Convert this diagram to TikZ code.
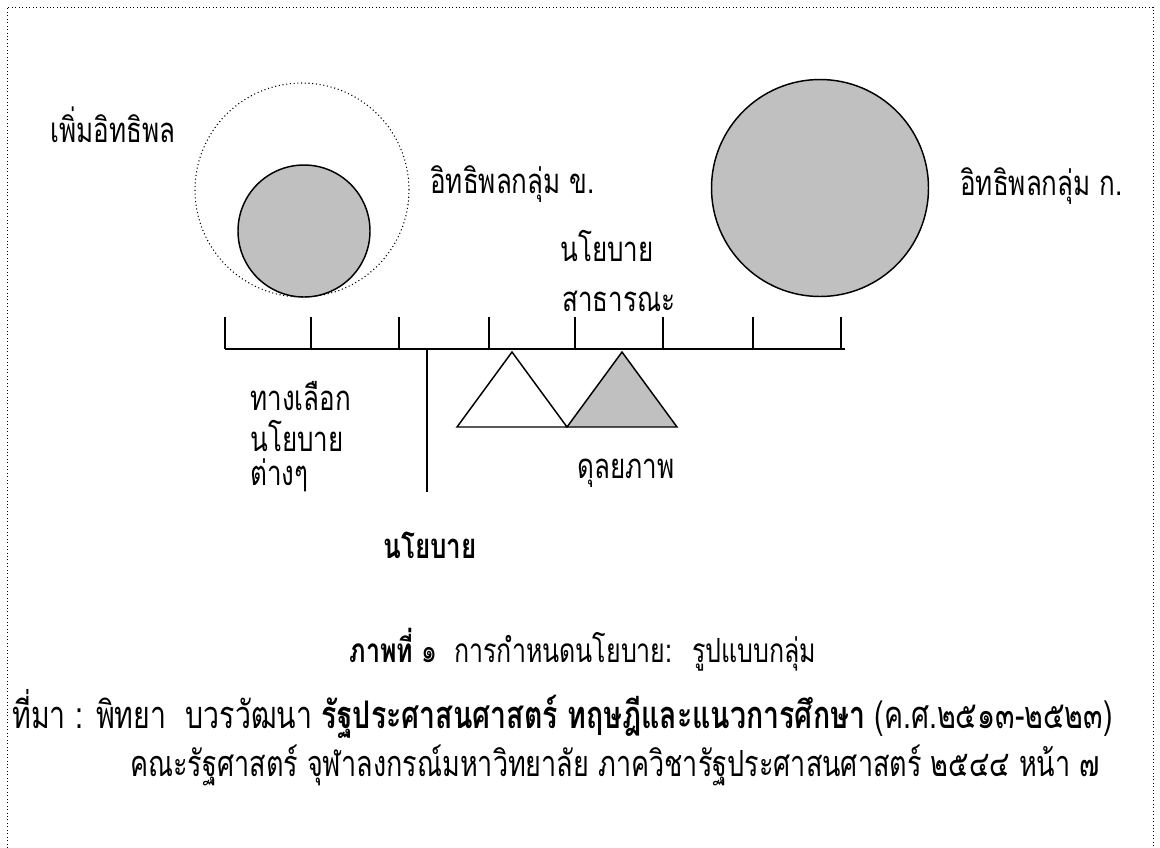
\documentclass[tikz,border=0pt]{standalone}
\usepackage{fontspec}
\setmainfont[Script=Thai,FakeStretch=0.75]{Loma}
\newfontfamily\thai[Script=Thai,FakeStretch=0.75]{Loma}
\definecolor{gfill}{HTML}{C0C0C0}
\tikzset{
  lbl/.style={anchor=west,inner sep=0pt,font=\thai\fontsize{26}{30}\selectfont},
  captxt/.style={anchor=west,inner sep=0pt,font=\thai\fontsize{27}{31}\selectfont},
  solidc/.style={draw=black,line width=1.1pt,fill=gfill},
  dotc/.style={draw=black,line width=0.8pt,dotted},
  rul/.style={draw=black,line width=1.1pt},
}
\begin{document}
\begin{tikzpicture}[x=0.75pt,y=-0.75pt]
\useasboundingbox (0,0) rectangle (1160,847);
\draw[line width=0.6pt,dotted] (7,900) -- (7,7) -- (1153,7) -- (1153,900);
% circles
\node[dotc,circle,minimum size=160.5pt,inner sep=0pt] (outer) at (302,190) {};
\node[solidc,circle,minimum size=99pt,inner sep=0pt] (small) at (304,231) {};
\node[solidc,circle,minimum size=162.75pt,inner sep=0pt] (big) at (820,188) {};
% labels
\node[lbl] (more) at (50,125) {เพิ่มอิทธิพล};
\node[lbl] (gb) at (430,184) {อิทธิพลกลุ่ม ข.};
\node[lbl] (ga) at (960,186) {อิทธิพลกลุ่ม ก.};
\node[lbl] (pol1) at (560,246) {นโยบาย};
\node[lbl] (pol2) at (562,301) {สาธารณะ};
% ruler
\coordinate (rl) at (225,349);
\coordinate (rr) at (845,349);
\draw[rul] (rl) -- (rr);
\foreach \x in {225,311,399,489,575,663,753,841}{
  \draw[rul] (\x,317) -- (\x,349);
}
\coordinate (stemtop) at (427,349);
\coordinate (stembot) at (427,492);
\draw[rul] (stemtop) -- (stembot);
% triangles
\coordinate (ta) at (512,352);
\coordinate (tl) at (457,427);
\coordinate (tm) at (567,427);
\coordinate (ga2) at (622,352);
\coordinate (gr) at (677,427);
\draw[rul,fill=white,line join=miter] (tl) -- (ta) -- (tm) -- cycle;
\draw[rul,fill=gfill,line join=miter] (tm) -- (ga2) -- (gr) -- cycle;
% lower labels
\node[lbl] (alt1) at (250,396) {ทางเลือก};
\node[lbl] (alt2) at (250,436) {นโยบาย};
\node[lbl] (alt3) at (250,475) {ต่างๆ};
\node[lbl] (eq) at (577,473) {ดุลยภาพ};
\node[lbl,font=\thai\bfseries\fontsize{26}{30}\selectfont] (polb) at (383,545) {นโยบาย};
% caption
\node[captxt,anchor=center,font=\thai\fontsize{25}{29}\selectfont] (c1) at (583,650) {\textbf{ภาพที่} ๑~ การกำหนดนโยบาย:~ รูปแบบกลุ่ม};
\node[captxt,font=\thai\fontsize{28.5}{32}\selectfont] (c2) at (12,714) {ที่มา : พิทยา~ บวรวัฒนา \textbf{รัฐประศาสนศาสตร์ ทฤษฎีและแนวการศึกษา} (ค.ศ.๒๕๑๓-๒๕๒๓)};
\node[captxt] (c3) at (130,765) {คณะรัฐศาสตร์ จุฬาลงกรณ์มหาวิทยาลัย ภาควิชารัฐประศาสนศาสตร์ ๒๕๔๔ หน้า ๗};
\end{tikzpicture}
\end{document}
